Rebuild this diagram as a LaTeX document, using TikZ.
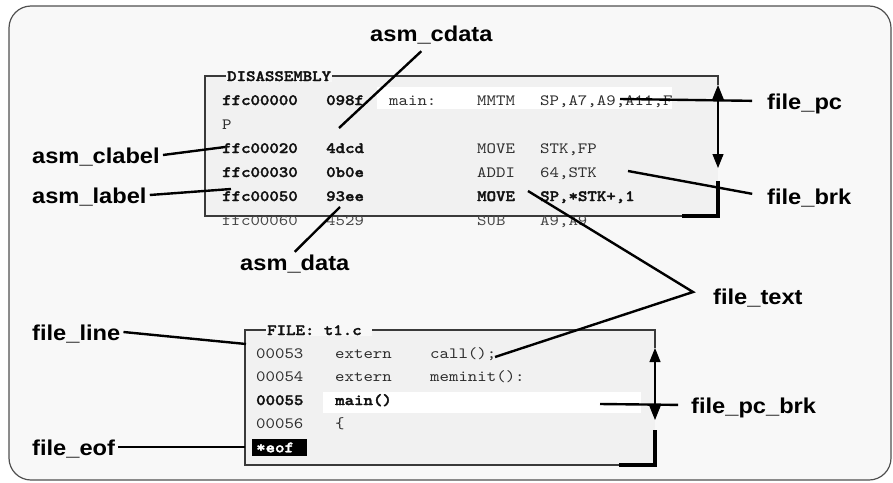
\documentclass[tikz,border=0pt]{standalone}
\usepackage{fontspec}
\setmainfont{Liberation Sans}
\newfontfamily\lblfont[FakeStretch=1.1]{Liberation Sans}
\newfontfamily\codefont{lmmono10-regular.otf}[FakeStretch=1.146, BoldFont=lmmonolt10-bold.otf, BoldFeatures={FakeBold=2}]
\usetikzlibrary{arrows.meta}
\definecolor{dbgback}{HTML}{F8F8F8}
\definecolor{dbgframe}{HTML}{505050}
\definecolor{dbgpanel}{HTML}{F1F1F1}
\definecolor{dbgline}{HTML}{3A3A3A}
\definecolor{dbgtext}{HTML}{2E2E2E}
\definecolor{dbgbold}{HTML}{111111}
\definecolor{dbgdim}{HTML}{484848}
\tikzset{
  frm/.style={draw=dbgframe, fill=dbgback, line width=1.2pt, rounded corners=22pt},
  win/.style={draw=dbgline, line width=1.3pt},
  scr/.style={draw=black, line width=1.1pt, {Triangle[width=11pt,length=14pt]}-{Triangle[width=11pt,length=14pt]}},
  thumb/.style={draw=black, line width=4pt, line join=miter},
  code/.style={anchor=base west, inner sep=0pt, font=\codefont\fontsize{15.7}{18}\selectfont, text=dbgtext},
  codeb/.style={code, font=\codefont\bfseries\fontsize{15.7}{18}\selectfont, text=dbgbold},
  codedim/.style={code, text=dbgdim},
  wintitle/.style={codeb, fill=dbgback, inner xsep=1pt, inner ysep=1pt},
  eofbox/.style={anchor=west, fill=black, text=white, font=\codefont\bfseries\fontsize{15.7}{18}\selectfont,
    minimum height=17pt, text width=47pt, inner xsep=4pt, inner ysep=0pt, align=left},
  lbl/.style={anchor=base west, font=\lblfont\bfseries\fontsize{21.5}{24}\selectfont, text=black,
    text height=16pt, text depth=0pt, inner xsep=3pt, inner ysep=2pt},
  lead/.style={draw=black, line width=2.4pt},
}
\begin{document}
\begin{tikzpicture}[x=1pt,y=-1pt]
  \useasboundingbox (0,0) rectangle (893,482);
  \draw[frm] (9,6) rectangle (891,480);
  % windows
  \fill[dbgpanel] (205,76) rectangle (718,216);
  \fill[dbgpanel] (245,330) rectangle (655,465);
  \fill[white] (377,87) rectangle (672,109);
  \fill[white] (323,392) rectangle (641,413);
  \draw[win] (682,216) -- (205,216) -- (205,76) -- (718,76) -- (718,85);
  \draw[scr] (718,85) -- (718,168);
  \draw[thumb] (718,181) -- (718,216) -- (682,216);
  \draw[win] (619,465) -- (245,465) -- (245,330) -- (655,330) -- (655,348);
  \draw[scr] (655,348) -- (655,420);
  \draw[thumb] (655,430) -- (655,465) -- (619,465);
  \node[wintitle] (distitle) at (226,81) {DISASSEMBLY};
  \node[wintitle] (filetitle) at (266,335) {FILE: t1.c\hphantom{0}};
  % disassembly lines
  \foreach \i/\ad/\hx/\st in {0/ffc00000/098f/codeb,2/ffc00020/4dcd/codeb,3/ffc00030/0b0e/codeb,4/ffc00050/93ee/codeb,5/ffc00060/4529/codedim}
    {
      \node[\st] (ad\i) at (222,105+24*\i) {\ad};
      \node[\st] (hx\i) at (326,105+24*\i) {\hx};
    }
  \foreach \i/\mn/\ar/\st in {0/MMTM/{SP,A7,A9,A11,F}/code,2/MOVE/{STK,FP}/code,3/ADDI/{64,STK}/code,4/MOVE/{SP,*STK+,1}/codeb,5/SUB/{A9,A9}/codedim}
    {
      \node[\st] (mn\i) at (477,105+24*\i) {\mn};
      \node[\st] (ar\i) at (540,105+24*\i) {\ar};
    }
  \node[code] (lab0) at (389,105) {main:};
  \node[code] (wrap1) at (222,129) {P};
  % source lines
  \foreach \i/\ln/\kw/\st in {0/00053/extern/code,1/00054/extern/code,2/00055/main()/codeb,3/00056/\{/code}
    {
      \node[\st] (ln\i) at (256,358+23.5*\i) {\ln};
      \node[\st] (kw\i) at (335,358+23.5*\i) {\kw};
    }
  \node[code] (fn0) at (430,358) {call();};
  \node[code] (fn1) at (430,381.5) {meminit():};
  \node[eofbox] (eof) at (252,447.5) {*eof};
  % labels
  \node[lbl] (asmcdata) at (367,41) {asm\_cdata};
  \node[lbl] (asmdata) at (237,270) {asm\_data};
  \node[lbl] (asmclabel) at (29,163) {asm\_clabel};
  \node[lbl] (asmlabel) at (29,203) {asm\_label};
  \node[lbl] (filepc) at (764,109) {file\_pc};
  \node[lbl] (filebrk) at (764,204) {file\_brk};
  \node[lbl] (filetext) at (710,304) {file\_text};
  \node[lbl] (filepcbrk) at (688,413) {file\_pc\_brk};
  \node[lbl] (fileline) at (29,340) {file\_line};
  \node[lbl] (fileeof) at (29,455) {file\_eof};
  % leader ends
  \coordinate (cdmk) at (339,128);
  \coordinate (dtmk) at (340,207);
  \coordinate (clmk) at (225,147);
  \coordinate (lbmk) at (231,189);
  \coordinate (pcmk) at (620,99);
  \coordinate (bkmk) at (628,171);
  \coordinate (txmk) at (528,191);
  \coordinate (srcmk) at (495,357);
  \coordinate (pbmk) at (600,404);
  \coordinate (lnmk) at (246,344);
  \coordinate (eofmk) at (245,447);
  \coordinate (txapex) at ([shift={(-17,-4)}]filetext.west);
  \draw[lead] ([shift={(-10,8)}]asmcdata.south) -- (cdmk);
  \draw[lead] (asmdata.north) -- (dtmk);
  \draw[lead] (asmclabel.east) -- (clmk);
  \draw[lead] (asmlabel.east) -- (lbmk);
  \draw[lead, shorten >=12pt] (pcmk) -- (filepc.west);
  \draw[lead, shorten >=12pt] (bkmk) -- (filebrk.west);
  \draw[lead] (txmk) -- (txapex) -- (srcmk);
  \draw[lead, shorten >=10pt] (pbmk) -- (filepcbrk.west);
  \draw[lead] (fileline.east) -- (lnmk);
  \draw[lead] (fileeof.east) -- (eofmk);
\end{tikzpicture}
\end{document}
